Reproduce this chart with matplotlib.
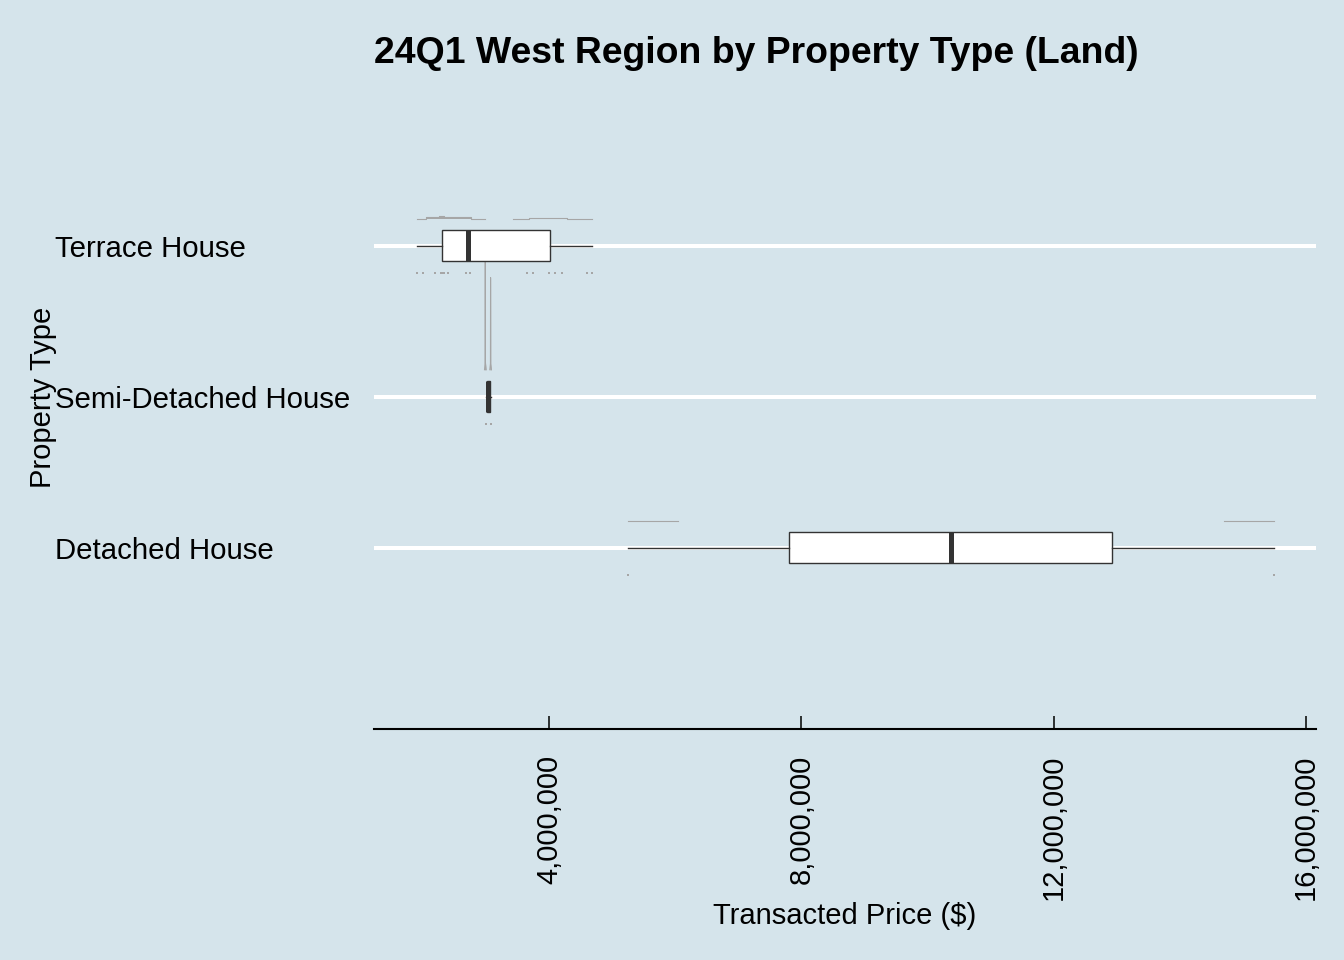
import matplotlib.pyplot as plt
from matplotlib.ticker import StrMethodFormatter

plt.rcParams['font.family'] = ['Liberation Sans', 'DejaVu Sans']

# categories from bottom to top
categories = ["Detached House", "Semi-Detached House", "Terrace House"]

# transacted prices ($)
detached_prices = [5250000, 15490000]
semi_prices = [2996000, 3080000]
terrace_prices = [1902000, 1997000, 2188000, 2292000, 2315000, 2335000, 2399000,
                  2684000, 2743000, 3646000, 3742000, 3995000, 4090000, 4201000,
                  4598000, 4677000]

# density slab outlines: x in $, height above slab base (axis units)
detached_slab = [
    ([5250000, 6040000], [0, 0]),
    ([14700000, 15490000], [0, 0]),
]
semi_slab = [
    ([2978000, 2988000, 2990000, 2992000, 3002000], [0, 0.05, 0.75, 0.05, 0]),
    ([3062000, 3072000, 3074000, 3076000, 3086000], [0, 0.04, 0.61, 0.04, 0]),
]
terrace_slab = [
    ([1902000, 2050000, 2050000, 2260000, 2260000, 2340000, 2340000, 2760000, 2760000, 2980000],
     [0, 0, 0.011, 0.011, 0.02, 0.02, 0.011, 0.011, 0, 0]),
    ([3430000, 3680000, 3680000, 4290000, 4290000, 4677000],
     [0, 0, 0.007, 0.007, 0, 0]),
]

x_ticks = [4000000, 8000000, 12000000, 16000000]

bg = '#D5E4EB'
box_col = '#333333'
grey = '#A6A6A6'

fig = plt.figure(figsize=(13.44, 9.6), dpi=100, facecolor=bg)
ax = fig.add_axes([374 / 1344, 1 - 729 / 960, 942 / 1344, (729 - 95) / 960])
ax.set_facecolor(bg)

positions = [1, 2, 3]
all_prices = [detached_prices, semi_prices, terrace_prices]
all_slabs = [detached_slab, semi_slab, terrace_slab]

# slabs above each box
for pos, slab in zip(positions, all_slabs):
    base = pos + 0.18
    for xs, hs in slab:
        top = [base + h for h in hs]
        ax.fill_between(xs, base, top, color=grey, lw=0, zorder=2)
        ax.plot(xs, top, color=grey, lw=0.8, zorder=2)

# dots below each box
for pos, prices in zip(positions, all_prices):
    ax.scatter(prices, [pos - 0.18] * len(prices), marker='s', s=3,
               color=grey, lw=0, zorder=2)

ax.boxplot(all_prices, positions=positions, orientation='horizontal', widths=0.205,
           patch_artist=True, showcaps=False, showfliers=False, whis=(0, 100),
           boxprops=dict(facecolor='white', edgecolor=box_col, lw=1.0),
           medianprops=dict(color=box_col, lw=3.6),
           whiskerprops=dict(color=box_col, lw=1.0),
           zorder=3)

ax.set_xlim(1226000, 16159000)
ax.set_ylim(-0.2, 4.0)

ax.set_yticks(positions)
ax.set_yticklabels(categories, fontsize=21.2, ha='left')
ax.tick_params(axis='y', length=0, pad=229.7)
ax.yaxis.grid(True, color='white', lw=2.9)
ax.set_axisbelow(True)

ax.set_xticks(x_ticks)
ax.xaxis.set_major_formatter(StrMethodFormatter('{x:,.0f}'))
ax.tick_params(axis='x', direction='in', length=9.4, width=1.1, color='black',
               labelsize=21, labelrotation=90, pad=18.5)

for side in ['top', 'left', 'right']:
    ax.spines[side].set_visible(False)
ax.spines['bottom'].set_linewidth(1.5)
ax.spines['bottom'].set_color('black')

fig.text(374 / 1344, 1 - 63.3 / 960, "24Q1 West Region by Property Type (Land)",
         fontsize=26.9, fontweight='bold', ha='left', va='baseline')
fig.text(845 / 1344, 1 - 916 / 960, "Transacted Price ($)", fontsize=21,
         ha='center', va='center')
fig.text(43 / 1344, 1 - 397 / 960, "Property Type", fontsize=21, rotation=90,
         ha='center', va='center')

fig.savefig('out.png', dpi=100, facecolor=bg)
